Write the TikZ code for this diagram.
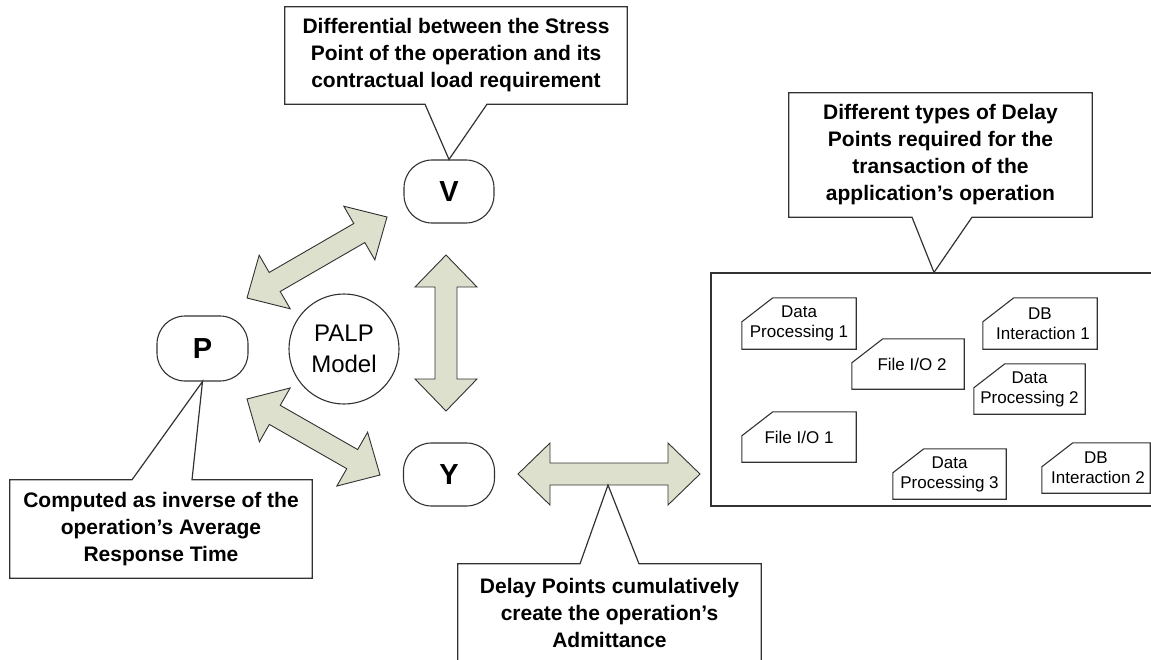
\documentclass[tikz,border=0pt]{standalone}
\usepackage{fontspec}
\setmainfont{Liberation Sans}
\usetikzlibrary{calc}

\definecolor{linegray}{RGB}{50,50,50}
\definecolor{arrowfill}{RGB}{221,224,205}

% block double arrow geometry: head length, head half width, shaft half width
\newcommand{\bahl}{32pt}
\newcommand{\bahw}{31pt}
\newcommand{\basw}{11pt}
% \blockarrow{tip a}{tip b}
\newcommand{\blockarrow}[2]{%
  \coordinate (ba-a) at ($(#1)!\bahl!(#2)$);
  \coordinate (ba-b) at ($(#2)!\bahl!(#1)$);
  \draw[blockarrowstyle] (#1)
    -- ($(ba-a)!\bahw!90:(#2)$) -- ($(ba-a)!\basw!90:(#2)$)
    -- ($(ba-b)!\basw!-90:(#1)$) -- ($(ba-b)!\bahw!-90:(#1)$)
    -- (#2)
    -- ($(ba-b)!\bahw!90:(#1)$) -- ($(ba-b)!\basw!90:(#1)$)
    -- ($(ba-a)!\basw!-90:(#2)$) -- ($(ba-a)!\bahw!-90:(#2)$)
    -- cycle;}
% card outline with the top left corner cut off
\newcommand{\cardoutline}[1]{%
  \draw[cardline] (#1.south west) -- (#1.south east) -- (#1.north east)
    -- ([xshift=31pt]#1.north west) -- ([yshift=-24pt]#1.north west) -- cycle;}

\tikzset{
  blockarrowstyle/.style={draw=linegray, line width=0.9pt, fill=arrowfill, line join=miter},
  letterbox/.style={draw=linegray, line width=1.1pt, rounded corners=28pt,
    font=\bfseries\fontsize{29}{32}\selectfont, inner sep=0pt},
  calloutline/.style={draw=linegray, line width=1.2pt, line join=miter},
  callouttext/.style={align=center, inner sep=0pt,
    font=\bfseries\fontsize{21}{27}\selectfont},
  cardtext/.style={align=center, inner sep=0pt,
    font=\fontsize{17}{20}\selectfont},
  cardline/.style={draw=linegray, line width=1.1pt},
}

\begin{document}
\begin{tikzpicture}[x=1pt, y=-1pt]
\useasboundingbox (0,0) rectangle (1151,659);
\clip (0,0) rectangle (1151,659);

% model letters and centre circle
\node[letterbox, minimum width=90pt, minimum height=63pt] (V) at (449,191.5) {V};
\node[letterbox, minimum width=91pt, minimum height=65pt] (P) at (202.5,348.5) {P};
\node[letterbox, minimum width=91pt, minimum height=63pt] (Y) at (449,474.5) {Y};
\node[circle, draw=linegray, line width=1.1pt, minimum size=110pt, inner sep=0pt,
      align=center, font=\fontsize{24}{31}\selectfont] (palp) at (344,349) {PALP\\Model};

% container of the delay points
\node[draw=linegray, line width=1.2pt, minimum width=454pt, minimum height=233pt,
      inner sep=0pt] (dbox) at (938,389.5) {};

\node[cardtext, minimum width=114pt, minimum height=51pt] (dp1) at (799,323.5) {Data\\Processing 1};
\node[cardtext, minimum width=112pt, minimum height=50pt] (fio2) at (908,364) {\hspace{8pt}File I/O 2};
\node[cardtext, minimum width=114pt, minimum height=51pt] (db1) at (1040,323.5) {DB\\\hspace{6pt}Interaction 1};
\node[cardtext, minimum width=111pt, minimum height=50pt] (dp2) at (1029.5,389) {Data\\Processing 2};
\node[cardtext, minimum width=114pt, minimum height=50pt] (fio1) at (799,437) {File I/O 1};
\node[cardtext, minimum width=113pt, minimum height=50pt] (dp3) at (949.5,474) {Data\\Processing 3};
\node[cardtext, minimum width=108pt, minimum height=50pt] (db2) at (1096,468) {DB\\\hspace{4pt}Interaction 2};
\foreach \c in {dp1,fio2,db1,dp2,fio1,dp3,db2} {\cardoutline{\c}}

% block arrows between the model elements
\coordinate (pv-a) at (247,298);
\coordinate (pv-b) at (387,217);
\coordinate (py-a) at (247,399);
\coordinate (py-b) at (380,475);
\coordinate (vy-a) at (446,255);
\coordinate (vy-b) at (446,411);
\coordinate (yd-a) at (518,474);
\coordinate (yd-b) at (700,474);
\blockarrow{pv-a}{pv-b}
\blockarrow{py-a}{py-b}
\blockarrow{vy-a}{vy-b}
\blockarrow{yd-a}{yd-b}
\coordinate (yd-tip) at (608,485);

% callouts
\node[callouttext, minimum width=342pt, minimum height=97pt] (cv) at (456,55.5)
  {Differential between the Stress\\Point of the operation and its\\contractual load requirement};
\node[callouttext, minimum width=303pt, minimum height=124pt] (cd1) at (940.5,155)
  {Different types of Delay\\Points required for the\\transaction of the\\application’s operation};
\node[callouttext, minimum width=302pt, minimum height=98pt] (cp) at (161,529)
  {Computed as inverse of the\\operation’s Average\\Response Time};
\node[callouttext, minimum width=303pt, minimum height=98pt] (cy) at (609.5,613)
  {Delay Points cumulatively\\create the operation’s\\Admittance};

\draw[calloutline] (cv.north west) -- (cv.north east) -- (cv.south east)
  -- ([xshift=31pt]cv.south) -- (V.north) -- ([xshift=-31pt]cv.south)
  -- (cv.south west) -- cycle;
\draw[calloutline] (cd1.north west) -- (cd1.north east) -- (cd1.south east)
  -- ([xshift=31.5pt]cd1.south) -- ([xshift=-4pt]dbox.north) -- ([xshift=-28.5pt]cd1.south)
  -- (cd1.south west) -- cycle;
\draw[calloutline] (cp.north west) -- ([xshift=-29pt]cp.north) -- (P.south)
  -- ([xshift=31pt]cp.north) -- (cp.north east) -- (cp.south east)
  -- (cp.south west) -- cycle;
\draw[calloutline] (cy.north west) -- ([xshift=-29.5pt]cy.north) -- (yd-tip)
  -- ([xshift=29.5pt]cy.north) -- (cy.north east) -- (cy.south east)
  -- (cy.south west) -- cycle;
\end{tikzpicture}
\end{document}
